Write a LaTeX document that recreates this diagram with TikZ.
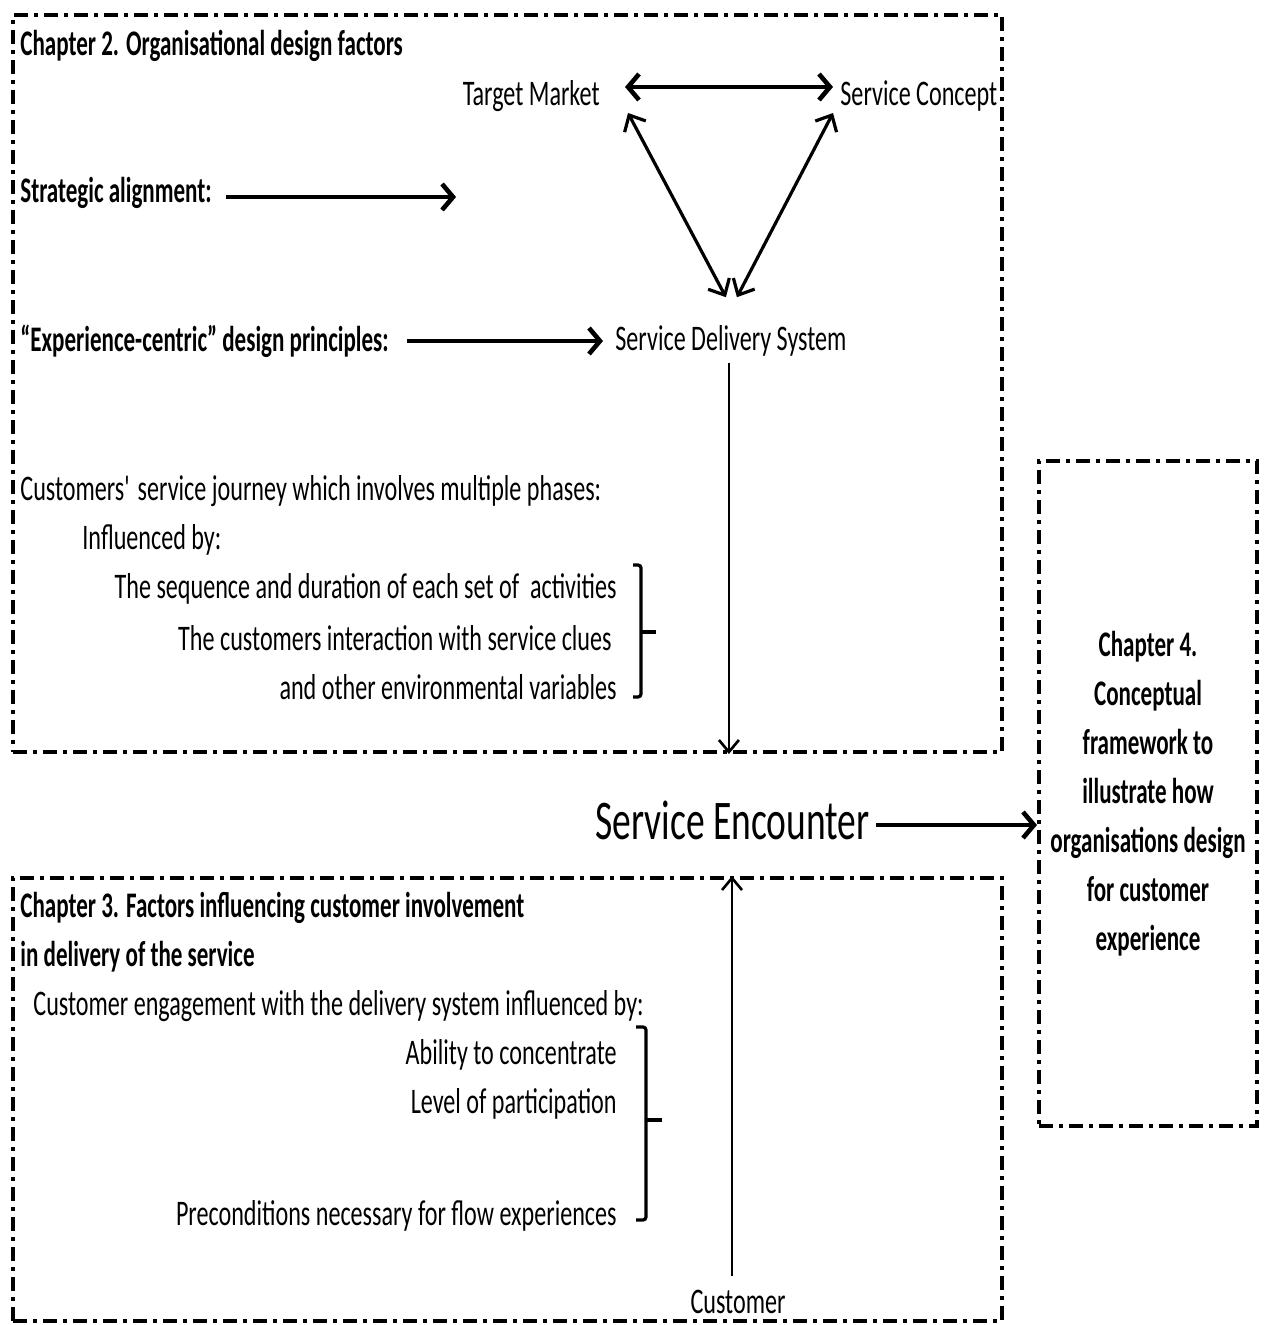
\documentclass[tikz,border=0pt]{standalone}
\usepackage{fontspec}
\setmainfont{Carlito}[FakeStretch=0.67, BoldFeatures={FakeStretch=0.64}]
\usetikzlibrary{arrows.meta,calc}

\begin{document}
\begin{tikzpicture}[x=0.5pt,y=-0.5pt,
  txt/.style={inner sep=0pt, font=\fontsize{18}{24.5}\selectfont},
  hd/.style={inner sep=0pt, font=\fontsize{18}{24.5}\selectfont\bfseries},
  frame/.style={draw, line width=2pt, dash pattern=on 7pt off 3pt on 2pt off 3pt, inner sep=0pt},
  thickarr/.style={line width=2.3pt, -{Straight Barb[length=5.5pt,width=13pt]}},
  thickdbl/.style={line width=2.3pt, {Straight Barb[length=5.5pt,width=13pt]}-{Straight Barb[length=5.5pt,width=13pt]}},
  diagdbl/.style={line width=1.6pt, {Straight Barb[length=6.5pt,width=12pt]}-{Straight Barb[length=6.5pt,width=12pt]}},
  thinarr/.style={line width=1.3pt, -{Straight Barb[length=6pt,width=10pt]}},
  brace/.style={line width=1.6pt, rounded corners=1.5pt}
]
\useasboundingbox (0,0) rectangle (1266,1325);

% three dash-dot frames
\node[frame, minimum width=494.5pt, minimum height=368.5pt] (box1) at (507.5,383.5) {};
\node[frame, minimum width=494.5pt, minimum height=221.5pt] (box2) at (507.5,1099.5) {};
\node[frame, minimum width=109pt, minimum height=332.5pt, align=center,
      font=\fontsize{18}{24.5}\selectfont\bfseries] (box3) at (1148,793.5)
  {Chapter 4.\\Conceptual\\framework to\\illustrate how\\organisations design\\for customer\\experience};

% Chapter 2 contents
\node[hd, anchor=west] (ch2) at (20,46) {Chapter 2. Organisational design factors};
\node[txt, anchor=east] (tm) at (600,96) {Target Market};
\node[txt, anchor=west] (sc) at (840,96) {Service Concept};
\node[hd, anchor=west] (sa) at (20,193) {Strategic alignment:};
\node[hd, anchor=west] (ecd) at (20,341) {“Experience-centric” design principles:};
\node[txt, anchor=west] (sds) at (615,341) {Service Delivery System};
\node[txt, anchor=west] (journey) at (20,491) {Customers\textquotesingle{} service journey which involves multiple phases:};
\node[txt, anchor=west] (infl) at (82,540) {Influenced by:};
\node[txt, anchor=east] (seq) at (617,589) {The sequence and duration of each set of \ activities};
\node[txt, anchor=east] (clues) at (612,638) {The customers interaction with service clues};
\node[txt, anchor=east] (env) at (617,687) {and other environmental variables};

% Chapter 3 contents
\node[hd, anchor=west] (ch3a) at (20,908) {Chapter 3. Factors influencing customer involvement};
\node[hd, anchor=west] (ch3b) at (20,957) {in delivery of the service};
\node[txt, anchor=west] (eng) at (33,1006) {Customer engagement with the delivery system influenced by:};
\node[txt, anchor=east] (abil) at (617,1055) {Ability to concentrate};
\node[txt, anchor=east] (lvl) at (617,1104) {Level of participation};
\node[txt, anchor=east] (pre) at (617,1216) {Preconditions necessary for flow experiences};
\node[txt, anchor=north] (cust) at (738,1290) {Customer};

% central label
\node[inner sep=0pt, font=\fontsize{28}{34}\selectfont, anchor=west] (se) at (595,820) {Service Encounter};

% triangle of design factors
\draw[thickdbl] ($(tm.east)+(25,-9)$) -- ($(sc.west)+(-7,-9)$);
\draw[diagdbl] ($(tm.east)+(28,17)$) -- ($(sds.north)+(-5,-28)$);
\draw[diagdbl] ($(sc.west)+(-7,17)$) -- ($(sds.north)+(6,-28)$);

% arrows from the bold design inputs
\draw[thickarr] ($(sa.east)+(14,4)$) -- ($(sa.east)+(244,4)$);
\draw[thickarr] ($(ecd.east)+(18,0)$) -- ($(sds.west)+(-12,0)$);

% flows into and out of the service encounter
\coordinate (sdsfoot) at ($(sds.south)+(-2,6)$);
\coordinate (custhead) at ($(cust.north)+(-6,-14)$);
\coordinate (setail) at ($(se.east)+(6,5)$);
\draw[thinarr] (sdsfoot) -- (sdsfoot |- box1.south);
\draw[thinarr] (custhead) -- (custhead |- box2.north);
\draw[thickarr] (setail) -- (setail -| box3.west);

% brackets grouping the influencing factors
\draw[brace] ($(seq.east)+(16,-24)$) -- ($(seq.east)+(24,-24)$) -- ($(env.east)+(24,10)$) -- ($(env.east)+(16,10)$);
\draw[brace] ($(clues.east)+(29,-6)$) -- ($(clues.east)+(44,-6)$);
\draw[brace] ($(abil.east)+(19,-28)$) -- ($(abil.east)+(29,-28)$) -- ($(pre.east)+(29,4)$) -- ($(pre.east)+(19,4)$);
\draw[brace] ($(lvl.east)+(29,16)$) -- ($(lvl.east)+(45,16)$);
\end{tikzpicture}
\end{document}
